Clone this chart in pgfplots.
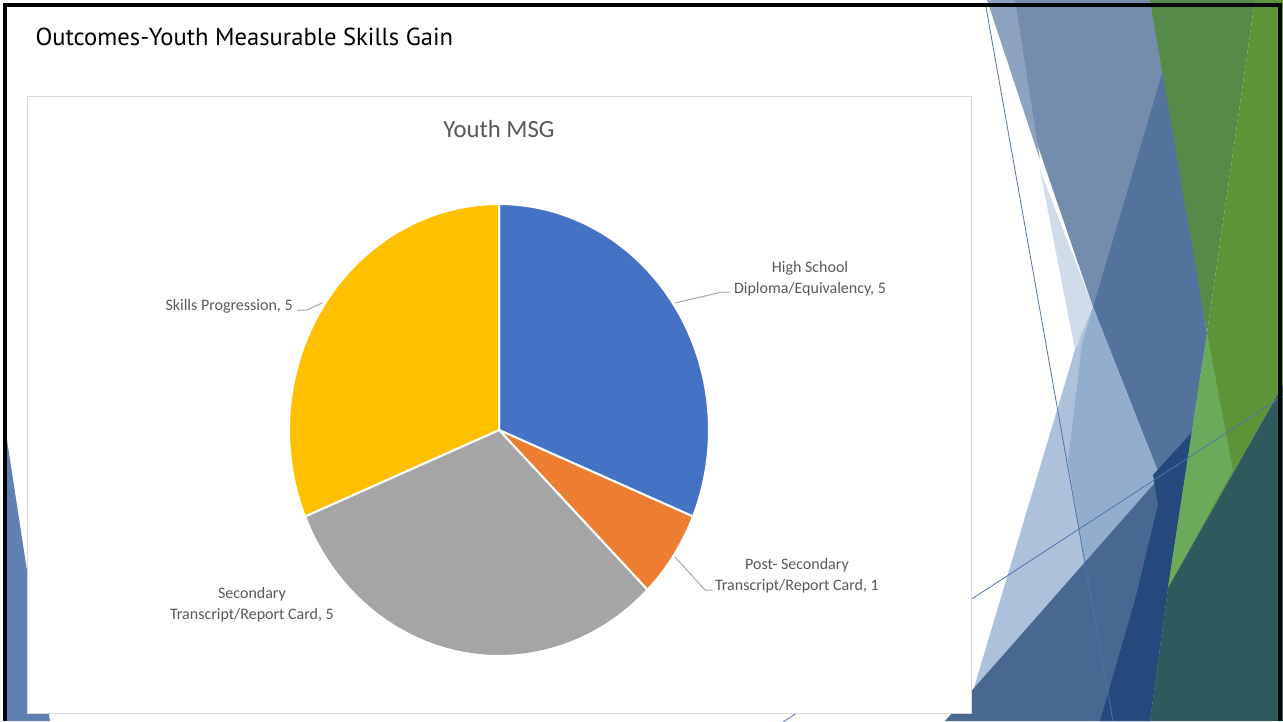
\documentclass[border=0pt]{standalone}
\usepackage{pgfplots}
\pgfplotsset{compat=1.18}
\usepackage{pgfplotstable}
\usepackage{fontspec}
\setmainfont{Carlito}
\newfontfamily\slidefont{PT Sans}
\definecolor{cBlue}{HTML}{4472C4}
\definecolor{cOrange}{HTML}{ED7D31}
\definecolor{cGray}{HTML}{A5A5A5}
\definecolor{cYellow}{HTML}{FFC000}
\definecolor{cText}{HTML}{595959}
\definecolor{cLead}{HTML}{A6A6A6}
\definecolor{cBox}{HTML}{D9D9D9}
\definecolor{dGBl}{HTML}{8DA2BF}
\definecolor{dGB}{HTML}{748DAD}
\definecolor{dMB}{HTML}{53739D}
\definecolor{dLB1}{HTML}{ADC1DA}
\definecolor{dLB2}{HTML}{93ADCD}
\definecolor{dPB}{HTML}{D0DCE9}
\definecolor{dDB}{HTML}{486892}
\definecolor{dNV}{HTML}{25497C}
\definecolor{dTL}{HTML}{2E5A5E}
\definecolor{dG1}{HTML}{568B47}
\definecolor{dG2}{HTML}{5E9438}
\definecolor{dLG}{HTML}{6AAA5A}
\definecolor{dLeft}{HTML}{5F80B3}
\definecolor{dLine}{HTML}{4F74AE}

\pgfplotstableread{
label value
HighSchool 5
PostSecondary 1
Secondary 5
SkillsProgression 5
}\piedata
\pgfplotstablegetelem{0}{value}\of\piedata \let\vA\pgfplotsretval
\pgfplotstablegetelem{1}{value}\of\piedata \let\vB\pgfplotsretval
\pgfplotstablegetelem{2}{value}\of\piedata \let\vC\pgfplotsretval
\pgfplotstablegetelem{3}{value}\of\piedata \let\vD\pgfplotsretval
\pgfmathsetmacro\tot{\vA+\vB+\vC+\vD}
\pgfmathsetmacro\aA{90}
\pgfmathsetmacro\aB{\aA-360*\vA/\tot}
\pgfmathsetmacro\aC{\aB-360*\vB/\tot}
\pgfmathsetmacro\aD{\aC-360*\vC/\tot}
\pgfmathsetmacro\aE{\aD-360*\vD/\tot}

\begin{document}%
\begin{tikzpicture}
\begin{axis}[scale only axis, width=1283pt, height=721pt,
  xmin=0, xmax=1283, ymin=0, ymax=721, y dir=reverse,
  hide axis, clip=true]
% background
\addplot[fill=white, draw=none] coordinates {(0,0)(1283,0)(1283,721)(0,721)} -- cycle;
% left decoration
\addplot[fill=dLeft, draw=none] coordinates {(7,440)(50,721)(7,721)} -- cycle;
% right decorations
\addplot[fill=dMB, draw=none] coordinates {(1095,0)(1153,0)(1207,333)(1168,588)(1160,477)(1093,307)} -- cycle;
\addplot[fill=dGB, draw=none] coordinates {(988,0)(1153,0)(1163,70)(1093,307)} -- cycle;
\addplot[fill=dGBl, draw=none] coordinates {(987,0)(1015,0)(1040,160)} -- cycle;
\addplot[fill=dPB, draw=none] coordinates {(1040,170)(1093,307)(1075,350)} -- cycle;
\addplot[fill=dLB1, draw=none] coordinates {(1075,350)(1093,307)(1160,477)(964,721)} -- cycle;
\addplot[fill=dLB2, draw=none] coordinates {(1093,307)(1160,477)(1085,567)(1068,460)(1082,345)} -- cycle;
\addplot[fill=dDB, draw=none] coordinates {(1160,477)(1168,588)(1150,721)(945,721)} -- cycle;
\addplot[fill=dNV, draw=none] coordinates {(1153,475)(1192,432)(1168,588)(1150,721)(1100,721)(1135,600)(1158,505)} -- cycle;
\addplot[fill=dG1, draw=none] coordinates {(1150,0)(1255,0)(1207,333)} -- cycle;
\addplot[fill=dG2, draw=none] coordinates {(1255,0)(1283,0)(1283,385)(1168,588)(1207,333)} -- cycle;
\addplot[fill=dLG, draw=none] coordinates {(1207,333)(1233,470)(1168,588)} -- cycle;
\addplot[fill=dTL, draw=none] coordinates {(1283,385)(1168,588)(1150,721)(1283,721)} -- cycle;
\addplot[dLine, line width=0.8pt] coordinates {(780,724)(1283,396)};
\addplot[dLine, line width=0.8pt] coordinates {(986,7)(1113,721)};
% chart box
\addplot[fill=white, draw=cBox, line width=1pt] coordinates {(27,96)(971,96)(971,713)(27,713)} -- cycle;
% pie sectors
\addplot[fill=cBlue, draw=white, line width=2pt, line join=round, domain=\aB:\aA, samples=90, variable=\t]
  ({499+210*cos(\t)},{430-226*sin(\t)}) -- (499,430) -- cycle;
\addplot[fill=cOrange, draw=white, line width=2pt, line join=round, domain=\aC:\aB, samples=30, variable=\t]
  ({499+210*cos(\t)},{430-226*sin(\t)}) -- (499,430) -- cycle;
\addplot[fill=cGray, draw=white, line width=2pt, line join=round, domain=\aD:\aC, samples=90, variable=\t]
  ({499+210*cos(\t)},{430-226*sin(\t)}) -- (499,430) -- cycle;
\addplot[fill=cYellow, draw=white, line width=2pt, line join=round, domain=\aE:\aD, samples=90, variable=\t]
  ({499+210*cos(\t)},{430-226*sin(\t)}) -- (499,430) -- cycle;
% leader lines
\addplot[cLead, line width=1pt] coordinates {(675,303)(722,292)(730,292)};
\addplot[cLead, line width=1pt] coordinates {(675,557)(705,590)(712,590)};
\addplot[cLead, line width=1pt] coordinates {(297,310)(307,310)(322,303)};
% texts
\node[anchor=base, text=cText, font=\fontsize{24.7}{28}\selectfont] at (axis cs:499,137) {Youth MSG};
\node[anchor=center, align=center, text=cText, font=\fontsize{16}{21}\selectfont] at (axis cs:810,279) {High School\\Diploma/Equivalency, 5};
\node[anchor=center, align=center, text=cText, font=\fontsize{16}{21}\selectfont] at (axis cs:797,576) {Post- Secondary\\Transcript/Report Card, 1};
\node[anchor=center, align=center, text=cText, font=\fontsize{16}{21}\selectfont] at (axis cs:252,605) {Secondary\\Transcript/Report Card, 5};
\node[anchor=base west, text=cText, font=\fontsize{16}{21}\selectfont] at (axis cs:162,310) {Skills Progression, 5};
\node[anchor=base west, text=black, font=\slidefont\fontsize{24.6}{28}\selectfont] at (axis cs:32,45) {Outcomes-Youth Measurable Skills Gain};
% frame
\addplot[black, line width=4pt] coordinates {(5,721)(5,5)(1280,5)(1280,721)};
\end{axis}
\end{tikzpicture}%
\end{document}
